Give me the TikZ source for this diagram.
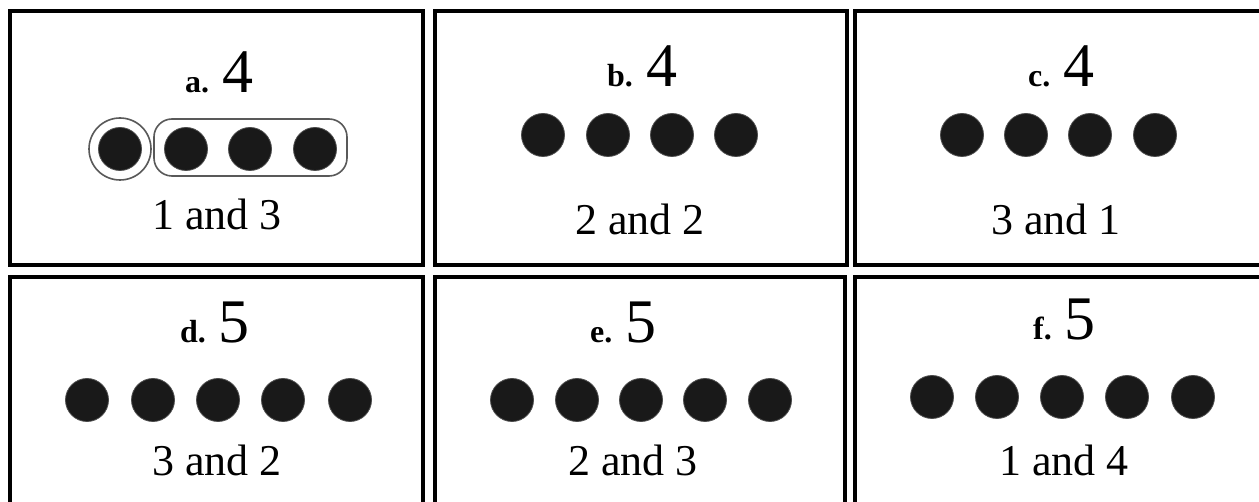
\documentclass[tikz,border=0pt]{standalone}
\usepackage{fontspec}
\setmainfont{Liberation Serif}
\begin{document}
\begin{tikzpicture}[x=1pt,y=-1pt,
  frame/.style={draw=black,line width=3.2pt},
  dot/.style={circle,fill=black!90,draw=black!70,line width=0.8pt,minimum size=43pt,inner sep=0pt},
  ring/.style={circle,draw=black!65,line width=1.6pt,minimum size=62pt,inner sep=0pt},
  group/.style={draw=black!65,line width=1.6pt,rounded corners=18pt},
  lbl/.style={anchor=base west,inner sep=0pt,font=\fontsize{32}{36}\selectfont\bfseries},
  num/.style={anchor=base west,inner sep=0pt,font=\fontsize{62}{66}\selectfont},
  captext/.style={anchor=base,inner sep=0pt,font=\fontsize{44}{48}\selectfont}
]
\useasboundingbox (0,0) rectangle (1259,502);
\clip (0,0) rectangle (1259,502);
\fill[white] (0,0) rectangle (1259,502);
% frames
\draw[frame] (10,11) rectangle (423,265);
\draw[frame] (435,11) rectangle (847,265);
\draw[frame] (855,11) rectangle (1275,265);
\draw[frame] (10,277) rectangle (423,520);
\draw[frame] (435,277) rectangle (845,520);
\draw[frame] (855,277) rectangle (1275,520);
% panel a
\node[lbl] (la) at (185,93) {a.};
\node[num] (na) at (222,93) {4};
\node[ring] (ra) at (120,149) {};
\node[dot] (a1) at (120,149) {};
\node[dot] (a2) at (186,149) {};
\node[dot] (a3) at (250,149) {};
\node[dot] (a4) at (315,149) {};
\draw[group] (154,119) rectangle (347,176);
\node[captext] (ta) at (217,230) {1 and 3};
% panel b
\node[lbl] (lb) at (607,87) {b.};
\node[num] (nb) at (646,87) {4};
\node[dot] (b1) at (543,135) {};
\node[dot] (b2) at (608,135) {};
\node[dot] (b3) at (672,135) {};
\node[dot] (b4) at (736,135) {};
\node[captext] (tb) at (640,235) {2 and 2};
% panel c
\node[lbl] (lc) at (1028,87) {c.};
\node[num] (nc) at (1063,87) {4};
\node[dot] (c1) at (962,135) {};
\node[dot] (c2) at (1026,135) {};
\node[dot] (c3) at (1090,135) {};
\node[dot] (c4) at (1155,135) {};
\node[captext] (tc) at (1056,235) {3 and 1};
% panel d
\node[lbl] (ld) at (180,343) {d.};
\node[num] (nd) at (218,343) {5};
\node[dot] (d1) at (87,400) {};
\node[dot] (d2) at (153,400) {};
\node[dot] (d3) at (218,400) {};
\node[dot] (d4) at (283,400) {};
\node[dot] (d5) at (350,400) {};
\node[captext] (td) at (217,476) {3 and 2};
% panel e
\node[lbl] (le) at (590,343) {e.};
\node[num] (ne) at (625,343) {5};
\node[dot] (e1) at (512,400) {};
\node[dot] (e2) at (577,400) {};
\node[dot] (e3) at (641,400) {};
\node[dot] (e4) at (705,400) {};
\node[dot] (e5) at (770,400) {};
\node[captext] (te) at (633,476) {2 and 3};
% panel f
\node[lbl] (lf) at (1033,340) {f.};
\node[num] (nf) at (1064,340) {5};
\node[dot] (f1) at (932,397) {};
\node[dot] (f2) at (997,397) {};
\node[dot] (f3) at (1062,397) {};
\node[dot] (f4) at (1127,397) {};
\node[dot] (f5) at (1193,397) {};
\node[captext] (tf) at (1064,476) {1 and 4};
\end{tikzpicture}
\end{document}
